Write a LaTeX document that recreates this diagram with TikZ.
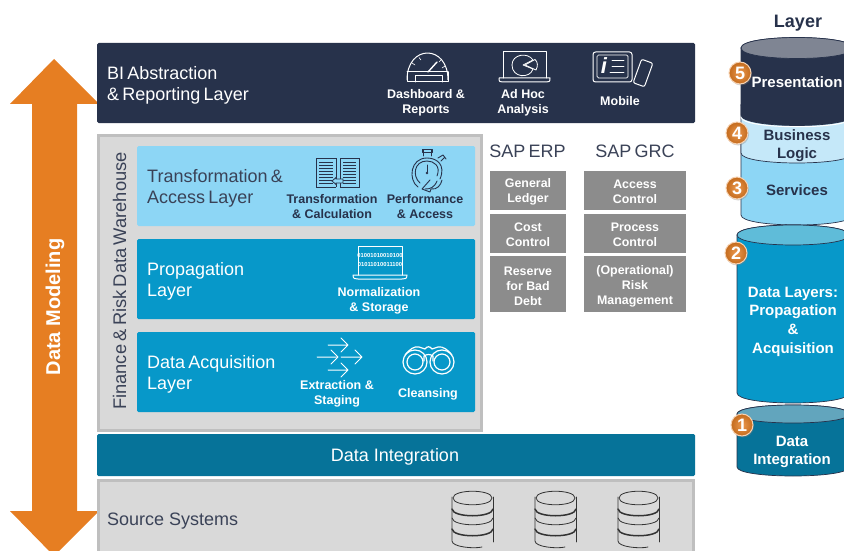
\documentclass[tikz,border=0pt]{standalone}
\usepackage{fontspec}
\setmainfont{Liberation Sans}
\newfontfamily\tightfont[WordSpace=0.65]{Liberation Sans}
\usetikzlibrary{shadows}
\definecolor{navy}{HTML}{27324B}
\definecolor{lightblue}{HTML}{8DD6F5}
\definecolor{paleblue}{HTML}{C5E8F9}
\definecolor{midblue}{HTML}{0798C9}
\definecolor{teal}{HTML}{067399}
\definecolor{panelgrey}{HTML}{D9D9D9}
\definecolor{paneledge}{HTML}{BFBFBF}
\definecolor{boxgrey}{HTML}{8C8C8C}
\definecolor{arroworange}{HTML}{E67E22}
\definecolor{toplight}{HTML}{7F8593}
\definecolor{topmid}{HTML}{5FBCD9}
\definecolor{topteal}{HTML}{62A5BD}
\definecolor{textgrey}{HTML}{3A4257}
\newcommand{\dn}{\rule{0pt}{13pt}}
\tikzset{
 band/.style={inner sep=0pt,outer sep=0pt,rounded corners=1.5pt,anchor=center},
 greybox/.style={band,fill=boxgrey,rounded corners=0pt,text=white,align=center,font=\fontsize{12.4}{15}\selectfont\bfseries},
 title/.style={inner sep=0pt,anchor=west,align=left,font=\tightfont\fontsize{18}{21}\selectfont},
 lab/.style={inner sep=0pt,align=center,font=\fontsize{12.5}{15}\selectfont\bfseries},
 cyltext/.style={inner sep=0pt,align=center,font=\fontsize{15}{18}\selectfont\bfseries},
 icon/.style={line width=1pt,line cap=round,line join=round},
 badge/.style={circle,minimum size=22pt,inner sep=0pt,draw=white!65!arroworange,line width=1pt,
   inner color=arroworange!80!white,outer color=arroworange!85!black,text=white,
   font=\fontsize{18}{18}\selectfont\bfseries,drop shadow={shadow xshift=1pt,shadow yshift=-1.5pt,opacity=.35}}
}
% centre x, half width, half height of the ellipse, y of the rim's top, y of the rim's bottom, fills
\newcommand{\cylbody}[7]{%
 \filldraw[draw=navy,line width=.7pt,fill=#6] (#1-#2,#4) -- (#1-#2,#5) .. controls (#1-#2,#5+1.333*#3) and (#1+#2,#5+1.333*#3) .. (#1+#2,#5) -- (#1+#2,#4) .. controls (#1+#2,#4-1.333*#3) and (#1-#2,#4-1.333*#3) .. cycle;
 \filldraw[draw=navy,line width=.7pt,fill=#7] (#1-#2,#4) .. controls (#1-#2,#4-1.333*#3) and (#1+#2,#4-1.333*#3) .. (#1+#2,#4) .. controls (#1+#2,#4+1.333*#3) and (#1-#2,#4+1.333*#3) .. cycle;
}
\newcommand{\dbicon}[1]{%
 \begin{scope}[xshift=#1pt,draw=black!80,line width=.8pt,line cap=round]
  \draw (1,498) .. controls (1,489) and (40,489) .. (40,498) .. controls (40,507) and (1,507) .. (1,498);
  \draw (0,497) -- (0,541) .. controls (0,547) and (22,549) .. (30,547);
  \draw (41,497) -- (41,542);
  \draw[line width=1.5pt] (0,509) .. controls (1,518) and (40,518) .. (41,509);
  \draw (0,518) .. controls (1,527) and (40,527) .. (41,518);
  \draw[line width=1.5pt] (0,529) .. controls (1,538) and (40,538) .. (41,529);
 \end{scope}}
\begin{document}
\begin{tikzpicture}[x=1pt,y=-1pt]
\useasboundingbox (0,0) rectangle (844,551);
% big arrow
\fill[arroworange] (54,59) -- (99,104) -- (77,104) -- (77,511) -- (99,511) -- (54,556) -- (10,511) -- (32,511) -- (32,104) -- (10,104) -- cycle;
\node[inner sep=0pt,rotate=90,text=white,font=\fontsize{20}{20}\selectfont\bfseries] (model) at (55,307) {Data Modeling};
% BI bar
\node[band,fill=navy,minimum width=598pt,minimum height=80pt] (bi) at (396,83) {};
\node[title,text=white] (bitxt) at (107,85.5) {BI Abstraction\\\& Reporting Layer};
% warehouse
\node[band,fill=panelgrey,draw=paneledge,line width=3pt,rounded corners=0pt,minimum width=383pt,minimum height=295pt] (wh) at (289.5,282.5) {};
\node[inner sep=0pt,rotate=90,text=textgrey,font=\tightfont\fontsize{18.3}{18}\selectfont] (whtxt) at (119.5,281) {Finance \& Risk Data Warehouse};
\node[band,fill=lightblue,minimum width=338pt,minimum height=80pt] (tr) at (306,186) {};
\node[band,fill=midblue,minimum width=338pt,minimum height=80pt] (pr) at (306,279) {};
\node[band,fill=midblue,minimum width=338pt,minimum height=80pt] (ac) at (306,372) {};
\node[title,text=textgrey] (trtxt) at (147,188.5) {Transformation \&\\Access Layer};
\node[title,text=white] (prtxt) at (147,281.5) {Propagation\\Layer};
\node[title,text=white] (actxt) at (147,374.5) {Data Acquisition\\Layer};
% integration & sources
\node[band,fill=teal,minimum width=598pt,minimum height=42pt] (di) at (396,455) {};
\node[inner sep=0pt,text=white,font=\fontsize{18}{18}\selectfont] (ditxt) at (395,457) {Data Integration};
\fill[panelgrey,draw=paneledge,line width=3pt] (98.5,560) -- (98.5,480.5) -- (693.5,480.5) -- (693.5,560);
\node[inner sep=0pt,anchor=west,text=textgrey,font=\fontsize{18}{18}\selectfont] (srctxt) at (107,521) {Source Systems};
\dbicon{452}\dbicon{535}\dbicon{618}
% SAP columns
\node[inner sep=0pt,text=textgrey,font=\tightfont\fontsize{18}{18}\selectfont] (erp) at (527.5,151) {SAP ERP};
\node[inner sep=0pt,text=textgrey,font=\tightfont\fontsize{18}{18}\selectfont] (grc) at (635,151) {SAP GRC};
\node[greybox,minimum width=76pt,minimum height=39pt] (g1) at (528,190) {\dn General\\Ledger};
\node[greybox,minimum width=76pt,minimum height=39pt] (g2) at (528,233) {\dn Cost\\Control};
\node[greybox,minimum width=76pt,minimum height=56pt] (g3) at (528,284) {\dn Reserve\\for Bad\\Debt};
\node[greybox,minimum width=102pt,minimum height=39pt] (r1) at (635,190) {\dn Access\\Control};
\node[greybox,minimum width=102pt,minimum height=39pt] (r2) at (635,233) {\dn Process\\Control};
\node[greybox,minimum width=102pt,minimum height=56pt] (r3) at (635,284) {\dn (Operational)\\Risk\\Management};
% labels
\node[lab,text=white] (l1) at (426,102.5) {Dashboard \&\\Reports};
\node[lab,text=white] (l2) at (523,102.5) {Ad Hoc\\Analysis};
\node[lab,text=white] (l3) at (620,101) {Mobile};
\node[lab,text=navy] (l4) at (332,206.5) {Transformation\\\& Calculation};
\node[lab,text=navy] (l5) at (425,206.5) {Performance\\\& Access};
\node[lab,text=white] (l6) at (379,300.5) {Normalization\\\& Storage};
\node[lab,text=white] (l7) at (337,393.5) {Extraction \&\\Staging};
\node[lab,text=white] (l8) at (428,394) {Cleansing};
% dashboard icon
\begin{scope}[icon,draw=white]
 \draw (407,80) .. controls (407,44) and (448,44) .. (448,80);
 \draw (407,72) -- (448,72);
 \draw (407,72) -- (407,82) -- (448,82) -- (448,72);
 \draw (415,82) -- (415,76) -- (442,76) -- (442,82);
 \draw[line width=1.4pt] (428,72) -- (437,62);
 \draw[line width=.6pt] (412,63) -- (415,65) (419,57.5) -- (421,60) (441,60) -- (439,62) (445,66) -- (442,68);
\end{scope}
% laptop with pie
\begin{scope}[icon,draw=white]
 \draw (503,78) -- (503,52) -- (546,52) -- (546,78);
 \draw (499,78) -- (550,78) (499,78) .. controls (499,82) and (500,82) .. (503,82) -- (546,82) .. controls (549,82) and (550,82) .. (550,78);
 \draw[line width=.8pt] (533,69) .. controls (530,79) and (512,78) .. (512,65) .. controls (512,54) and (528,52) .. (533,60) -- (523,65) -- cycle;
 \draw[line width=.8pt] (525,65) -- (535,59.5) .. controls (538,62) and (538,66) .. (536,70) -- cycle;
\end{scope}
% tablet and phone
\begin{scope}[icon,draw=white]
 \draw[rounded corners=2.5pt] (593,52) rectangle (632,82);
 \draw[rounded corners=1.5pt,line width=.7pt] (597,55) rectangle (628,78);
 \draw[line width=.8pt] (612,60) -- (624,60) (612,66) -- (624,66) (610,72) -- (624,72);
\end{scope}
\node[inner sep=0pt,text=white,font=\fontsize{22}{22}\selectfont\bfseries\itshape] (info) at (604,66) {i};
\node[draw=white,line width=1pt,rounded corners=2pt,fill=navy,minimum width=12pt,minimum height=25pt,inner sep=0pt,rotate=-20] (phone) at (643,73) {};
% book
\begin{scope}[navy,line width=.9pt,draw=navy]
 \draw (336,187) -- (316,187) -- (316,158) -- (336,158) -- (336,187);
 \draw (340,187) -- (359,187) -- (359,158) -- (340,158) -- (340,187);
 \foreach \yy in {162,165,168,171,174,177,180,183}{\draw[line width=.7pt] (319,\yy) -- (333,\yy) (343,\yy) -- (356,\yy);}
 \draw[fill=lightblue,line width=.8pt] (332,181) -- (336,177.5) -- (336,179) -- (343,179) -- (343,183) -- (336,183) -- (336,184.5) -- cycle;
\end{scope}
% stopwatch
\begin{scope}[draw=navy,line width=.9pt,line cap=round,line join=round]
 \draw (440,179) .. controls (446,165) and (437,158) .. (427,158) .. controls (410,158) and (408,180) .. (418,187);
 \draw (437,176) .. controls (441,166) and (434,161) .. (427,161) .. controls (414,161) and (412,176) .. (420,183);
 \draw (437,181) .. controls (434,188) and (430,189) .. (425,189);
 \draw (430,180) -- (422,189) -- (430,192) -- (431,189) .. controls (437,190) and (441,185) .. (442,180);
 \draw (423,156) -- (423,150) (431,156) -- (431,150) (422,149.5) -- (432,149.5) -- (432,152.5) -- (422,152.5) -- cycle;
 \draw (438,158) -- (443,155) -- (446,159) (441,161) -- (444,158);
 \draw[line width=1pt] (427,165) -- (427,172);
 \fill[navy] (427,173) circle[radius=1.3pt];
\end{scope}
% binary laptop
\begin{scope}[icon,draw=white]
 \draw (358,275) -- (358,246) -- (402,246) -- (402,275);
 \draw (353,275) -- (407,275) (353,275) .. controls (353,279) and (355,279) .. (358,279) -- (402,279) .. controls (405,279) and (407,279) .. (407,275);
\end{scope}
\node[inner sep=0pt,text=white,align=center,font=\fontsize{5.8}{8.5}\selectfont\bfseries] (binary) at (380,260) {01001010010100\\01011010011100};
% extraction arrows
\begin{scope}[icon,draw=white]
 \draw (328,345) -- (347,345) (341,338) -- (348,345) -- (341,352);
 \draw (317,357) -- (336,357) (331,350) -- (338,357) -- (331,364);
 \draw (341,357) -- (361,357) (355,350) -- (362,357) -- (355,364);
 \draw (328,370) -- (347,370) (341,363) -- (348,370) -- (341,377);
\end{scope}
% binoculars
\begin{scope}[icon,draw=white,line width=1.2pt]
 \draw (415,362) circle[radius=12pt] (415,362) circle[radius=8pt];
 \draw (442,362) circle[radius=12pt] (442,362) circle[radius=8pt];
 \draw (405,355) .. controls (410,349) and (414,346) .. (419,347) -- (425,349) .. controls (427,346) and (430,346) .. (432,349) -- (438,347) .. controls (443,346) and (448,350) .. (452,355);
 \draw (424,361) -- (424,356) .. controls (427,354) and (430,354) .. (433,356) -- (433,361);
\end{scope}
% cylinders
\node[inner sep=0pt,text=navy,font=\fontsize{18}{18}\selectfont\bfseries] (layer) at (798,23) {Layer};
\cylbody{797}{56}{10}{143}{215}{lightblue}{lightblue}
\cylbody{797}{56}{10}{105}{153}{paleblue}{paleblue}
\draw[white,line width=1pt] (741,117) .. controls (741,130) and (853,130) .. (853,117);
\cylbody{797}{56}{10.5}{48}{115}{navy}{toplight}
\cylbody{793}{56}{10}{235}{393}{midblue}{topmid}
\cylbody{793}{56}{9}{414}{467}{teal}{topteal}
\node[cyltext,text=white] (c5) at (797,82) {Presentation};
\node[cyltext,text=navy] (c4) at (797,146) {Business\\Logic};
\node[cyltext,text=navy] (c3) at (797,190) {Services};
\node[cyltext,text=white,font=\fontsize{15}{18.6}\selectfont\bfseries] (c2) at (793,321.5) {Data Layers:\\Propagation\\\&\\Acquisition};
\node[cyltext,text=white] (c1) at (792,452) {Data\\Integration};
\node[badge] (b5) at (740,73) {5};
\node[badge] (b4) at (737,133) {4};
\node[badge] (b3) at (737,188) {3};
\node[badge] (b2) at (736,253) {2};
\node[badge] (b1) at (742,425) {1};
\end{tikzpicture}
\end{document}
